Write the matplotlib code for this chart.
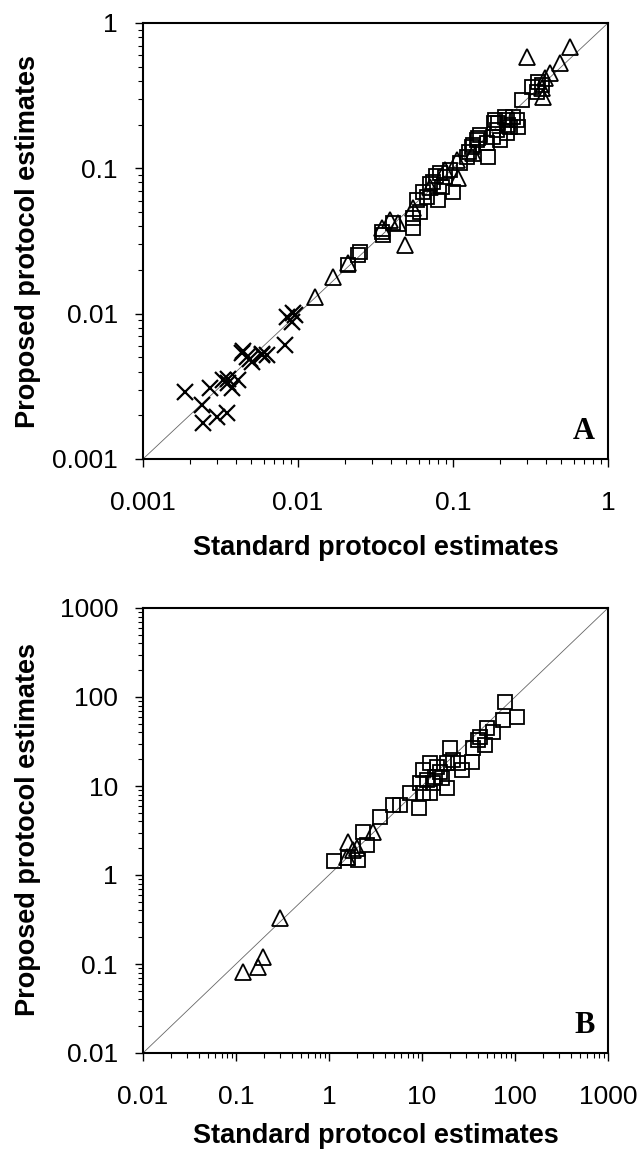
import matplotlib
matplotlib.use("Agg")
import matplotlib.pyplot as plt
from matplotlib.ticker import LogLocator, FixedLocator, FixedFormatter, NullFormatter

# ---------------- Panel A data ----------------
a_sq_x = [0.0211, 0.0245, 0.0251, 0.0347, 0.0356, 0.0412, 0.0555, 0.0612, 0.0555, 0.0583,
          0.0645, 0.0676, 0.0803, 0.0845, 0.1005, 0.0746, 0.0824, 0.0887, 0.0957, 0.111,
          0.1225, 0.135, 0.142, 0.149, 0.169, 0.165, 0.182, 0.191, 0.196, 0.201,
          0.222, 0.216, 0.233, 0.258, 0.264, 0.245, 0.277, 0.322, 0.356, 0.347,
          0.373, 0.132, 0.145, 0.127, 0.185, 0.188, 0.222, 0.226, 0.078, 0.071]
a_sq_y = [0.0216, 0.0254, 0.0267, 0.0366, 0.0347, 0.0419, 0.0453, 0.0504, 0.0386, 0.0605,
          0.069, 0.0638, 0.0605, 0.0748, 0.069, 0.0809, 0.0925, 0.0877, 0.0975, 0.108,
          0.120, 0.145, 0.157, 0.169, 0.120, 0.149, 0.165, 0.184, 0.204, 0.157,
          0.174, 0.227, 0.194, 0.215, 0.194, 0.227, 0.295, 0.365, 0.394, 0.337,
          0.374, 0.140, 0.162, 0.130, 0.205, 0.215, 0.215, 0.200, 0.088, 0.078]

a_tri_x = [0.569, 0.299, 0.490, 0.423, 0.393, 0.383, 0.373, 0.0490, 0.0169, 0.0129,
           0.0211, 0.0347, 0.0393, 0.0444, 0.0555, 0.108, 0.106, 0.135, 0.0887, 0.0708]
a_tri_y = [0.687, 0.586, 0.527, 0.451, 0.416, 0.311, 0.355, 0.0297, 0.0180, 0.0131,
           0.0222, 0.0386, 0.0441, 0.0419, 0.0531, 0.0853, 0.114, 0.127, 0.0975, 0.0748]

a_x_x = [0.00187, 0.00239, 0.00245, 0.00299, 0.00347, 0.00271, 0.00330, 0.00356, 0.00373,
         0.00412, 0.00433, 0.00467, 0.00502, 0.00583, 0.00628, 0.00824, 0.00845, 0.00933,
         0.00910, 0.00957, 0.00356, 0.00440, 0.00490, 0.00590]
a_x_y = [0.00290, 0.00235, 0.00176, 0.00195, 0.00206, 0.00306, 0.00350, 0.00332, 0.00306,
         0.00350, 0.00533, 0.00506, 0.00468, 0.00520, 0.00520, 0.00608, 0.00953, 0.01005,
         0.00881, 0.00980, 0.00358, 0.00550, 0.00490, 0.00530]

# ---------------- Panel B data ----------------
b_sq_x = [1.14, 2.07, 1.61, 2.34, 2.54, 3.53, 4.92, 7.43, 9.36, 9.51,
          10.3, 12.2, 13.8, 14.4, 18.4, 20.0, 15.6, 21.7, 26.7, 34.2,
          42.1, 49.6, 47.6, 58.5, 74.9, 78.0, 104.0, 10.3, 11.2, 13.2,
          16.3, 12.2, 24.6, 18.4, 35.6, 40.4, 5.8]
b_sq_y = [1.45, 1.47, 1.54, 3.07, 2.17, 4.52, 6.12, 8.28, 5.61, 10.7,
          8.28, 18.0, 12.7, 16.5, 9.42, 26.5, 14.5, 19.6, 15.1, 18.8,
          35.8, 44.5, 28.9, 40.8, 55.2, 88.7, 60.1, 15.1, 11.7, 10.7,
          12.2, 8.28, 18.0, 18.0, 26.5, 32.9, 6.12]

b_tri_x = [0.120, 0.174, 0.197, 0.297, 1.61, 1.55, 1.98, 3.0, 1.83]
b_tri_y = [0.082, 0.093, 0.121, 0.326, 2.37, 1.61, 2.0, 3.07, 1.91]

a_ticks = [0.001, 0.01, 0.1, 1]
a_ticklabels = ["0.001", "0.01", "0.1", "1"]
b_ticks = [0.01, 0.1, 1, 10, 100, 1000]
b_ticklabels = ["0.01", "0.1", "1", "10", "100", "1000"]

xlabel = "Standard protocol estimates"
ylabel = "Proposed protocol estimates"

plt.rcParams['font.family'] = ['Liberation Sans', 'DejaVu Sans']

W, H = 641, 1154
fig = plt.figure(figsize=(W / 100, H / 100), dpi=100)

def make_axes(x0, y0, x1, y1):
    return fig.add_axes([x0 / W, 1 - y1 / H, (x1 - x0) / W, (y1 - y0) / H])

axA = make_axes(143, 23, 608, 459)
axB = make_axes(143, 608, 608, 1053)

def style(ax, ticks, labels, letter):
    lo, hi = ticks[0], ticks[-1]
    ax.set_xscale('log')
    ax.set_yscale('log')
    ax.set_xlim(lo, hi)
    ax.set_ylim(lo, hi)
    ax.plot([lo, hi], [lo, hi], color='#666666', lw=0.6, zorder=1)
    for axis in (ax.xaxis, ax.yaxis):
        axis.set_major_locator(FixedLocator(ticks))
        axis.set_major_formatter(FixedFormatter(labels))
        axis.set_minor_locator(LogLocator(base=10, subs=range(2, 10), numticks=20))
        axis.set_minor_formatter(NullFormatter())
    ax.tick_params(which='major', direction='out', length=6, width=1.0,
                   labelsize=19, top=False, right=False)
    ax.tick_params(which='minor', direction='out', length=3.5, width=0.8,
                   top=False, right=False)
    ax.tick_params(axis='x', which='major', pad=17)
    ax.tick_params(axis='y', which='major', pad=12)
    for s in ax.spines.values():
        s.set_linewidth(1.5)
    ax.text(0.972, 0.03, letter, transform=ax.transAxes, ha='right', va='bottom',
            fontsize=22, fontweight='bold', family='Liberation Serif')

mk = dict(linestyle='none', mfc='none', mec='black', zorder=3)

style(axA, a_ticks, a_ticklabels, 'A')
axA.plot(a_sq_x, a_sq_y, marker='s', markersize=9.5, mew=1.3, **mk)
axA.plot(a_tri_x, a_tri_y, marker='^', markersize=11, mew=1.3, **mk)
axA.plot(a_x_x, a_x_y, marker='x', markersize=12, mew=1.6, **mk)

style(axB, b_ticks, b_ticklabels, 'B')
axB.plot(b_sq_x, b_sq_y, marker='s', markersize=9.5, mew=1.3, **mk)
axB.plot(b_tri_x, b_tri_y, marker='^', markersize=11, mew=1.3, **mk)

for yc in (548, 1136):
    fig.text(375.5 / W, 1 - yc / H, xlabel, ha='center', va='center',
             fontsize=19.5, fontweight='bold')
for yc in (241, 830):
    fig.text(28 / W, 1 - yc / H, ylabel, ha='center', va='center',
             rotation=90, fontsize=19.5, fontweight='bold')

fig.savefig('out.png', dpi=100)
